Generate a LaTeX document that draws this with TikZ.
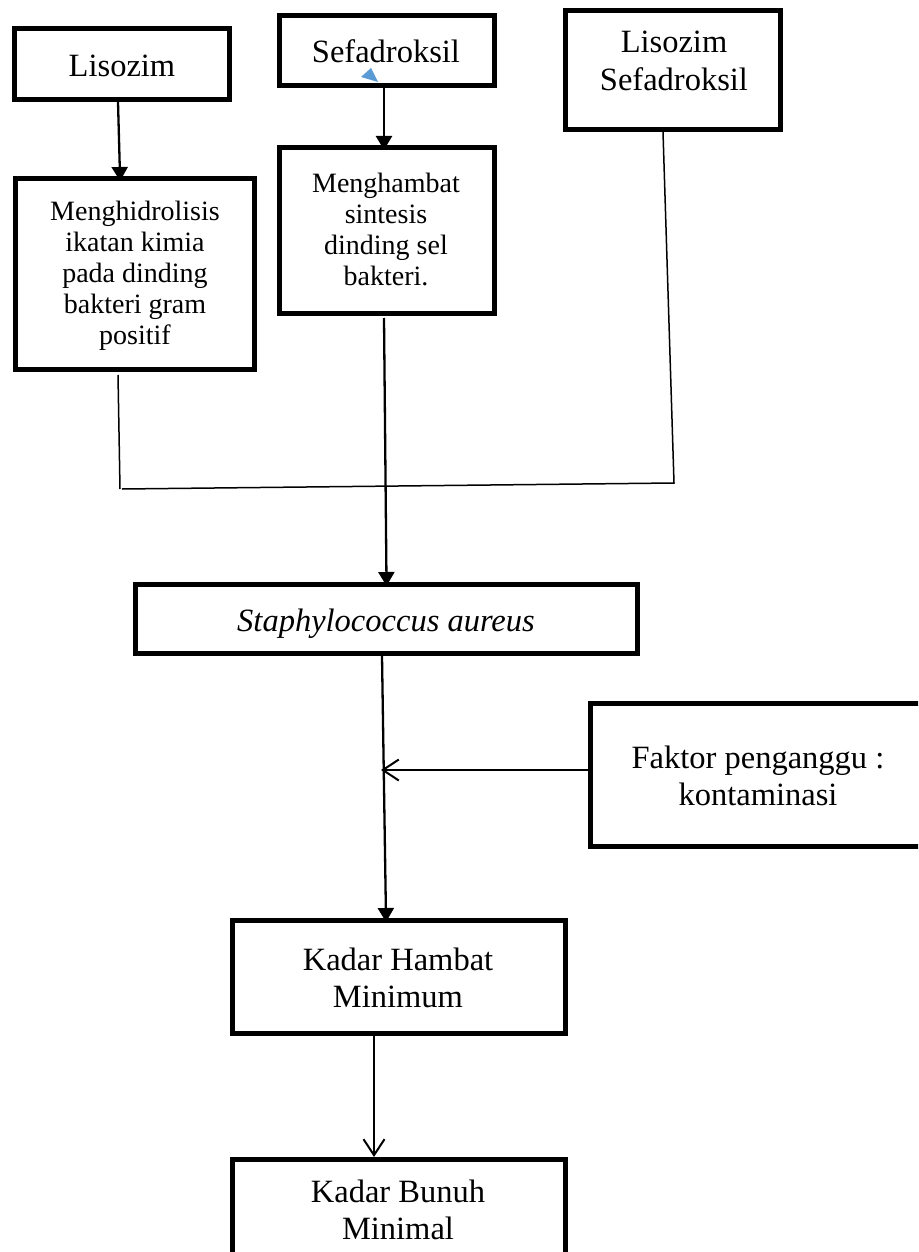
\documentclass[tikz,border=0pt]{standalone}
\usepackage{fontspec}
\setmainfont{Liberation Serif}
\usetikzlibrary{arrows.meta}
\definecolor{tri}{HTML}{5B9BD5}
\tikzset{
  box/.style={draw, rectangle, line width=4.7pt, inner sep=0pt},
  txt/.style={align=center, inner sep=0pt},
  bigtext/.style={font=\fontsize{32.5}{37.5}\selectfont},
  smalltext/.style={font=\fontsize{28}{31}\selectfont},
  arr/.style={line width=2.3pt, -{Triangle[width=16pt,length=14pt]}},
  oarr/.style={line width=2pt, -{Straight Barb[width=21pt,length=16pt]}},
  link/.style={line width=1.5pt}
}
\begin{document}
\begin{tikzpicture}[x=1pt,y=-1pt]
\useasboundingbox (0,0) rectangle (918,1252);
\fill[white] (0,0) rectangle (918,1252);
\clip (0,0) rectangle (918,1252);

% boxes
\node[box, minimum width=215.3pt, minimum height=71.3pt]  (b1) at (122,64) {};
\node[box, minimum width=215.3pt, minimum height=70.3pt]  (b2) at (387,50.5) {};
\node[box, minimum width=215.3pt, minimum height=119.3pt] (b3) at (673,70) {};
\node[box, minimum width=239.3pt, minimum height=191.3pt] (b4) at (135,274) {};
\node[box, minimum width=215.3pt, minimum height=166.3pt] (b5) at (387,230.5) {};
\node[box, minimum width=502.3pt, minimum height=69.3pt]  (b6) at (386.5,619) {};
\node[box, minimum width=335.3pt, minimum height=143.3pt] (b7) at (758,775) {};
\node[box, minimum width=333.3pt, minimum height=113.3pt] (b8) at (399,977) {};
\node[box, minimum width=333.3pt, minimum height=113.3pt] (b9) at (399,1216) {};

% texts
\node[txt, bigtext] (t1) at (122,66) {Lisozim};
\node[txt, bigtext] (t2) at (386,51) {Sefadroksil};
\node[txt, bigtext] (t3) at (674,61) {Lisozim\\Sefadroksil};
\node[txt, smalltext] (t4) at (135,276) {Menghidrolisis\\ikatan kimia\\pada dinding\\bakteri gram\\positif};
\node[txt, smalltext] (t5) at (386,229) {Menghambat\\sintesis\\dinding sel\\bakteri.};
\node[txt, font=\fontsize{32.5}{37.5}\selectfont\itshape] (t6) at (386,624) {Staphylococcus aureus};
\node[txt, bigtext] (t7) at (758,776) {Faktor penganggu :\\kontaminasi};
\node[txt, bigtext] (t8) at (398,978) {Kadar Hambat\\Minimum};
\node[txt, bigtext] (t9) at (398,1210) {Kadar Bunuh\\Minimal};

% stray blue triangle
\fill[tri] (371,68) -- (361,77) -- (378,82) -- cycle;

% junction points
\coordinate (j1) at (120,489);
\coordinate (j2) at (674,483);
\coordinate (c1) at (381,770);

% connectors
\draw[arr, shorten >=-5pt] ([xshift=-4pt]b1.south) -- ([xshift=-15pt]b4.north);
\draw[arr, shorten >=-5pt] ([xshift=-3pt]b2.south) -- ([xshift=-3pt]b5.north);
\draw[link] ([xshift=-17pt,yshift=-3pt]b4.south) -- (j1);
\draw[link] ([xshift=2pt]j1) -- (j2) -- ([xshift=-10pt]b3.south);
\draw[arr, shorten >=-4pt] ([xshift=-3pt,yshift=-2pt]b5.south) -- (b6.north);
\draw[arr, shorten >=-4pt] ([xshift=-4.5pt]b6.south) -- ([xshift=-13pt]b8.north);
\draw[oarr] ([yshift=5pt]b7.west) -- (c1);
\draw[oarr] ([xshift=-25pt]b8.south) -- ([xshift=-25pt]b9.north);
\end{tikzpicture}
\end{document}
